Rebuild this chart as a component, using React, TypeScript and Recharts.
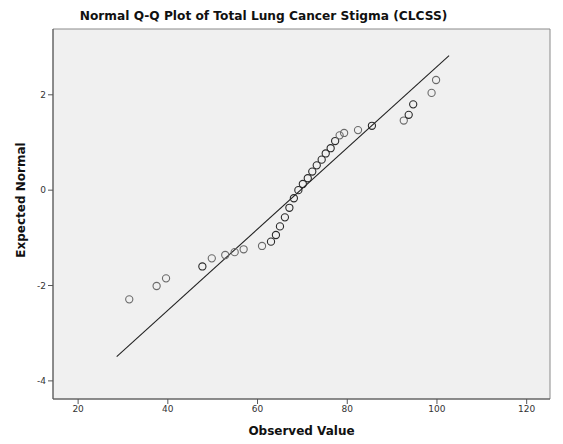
import {
  ScatterChart,
  Scatter,
  XAxis,
  YAxis,
  ReferenceArea,
} from "recharts";

const observed = [
  31.4, 37.5, 39.6, 47.7, 49.8, 52.8, 54.9, 56.9, 61.0, 63.0, 64.1, 65.0, 66.1,
  67.1, 68.1, 69.1, 70.1, 71.2, 72.2, 73.2, 74.3, 75.2, 76.3, 77.3, 78.3, 79.3,
  82.4, 85.5, 92.6, 93.7, 94.7, 98.8, 99.8,
];
const expected = [
  -2.29, -2.01, -1.85, -1.6, -1.43, -1.36, -1.3, -1.24, -1.17, -1.08, -0.94,
  -0.76, -0.57, -0.37, -0.17, 0.0, 0.13, 0.25, 0.39, 0.52, 0.64, 0.77, 0.88,
  1.03, 1.15, 1.2, 1.26, 1.35, 1.46, 1.58, 1.8, 2.04, 2.31,
];
// tied cases draw darker
const ties = [
  1, 1, 1, 2, 1, 1, 1, 1, 1, 2, 2, 2, 2, 2, 2, 2, 2, 2, 2, 2, 2, 2, 2, 2, 1, 1,
  1, 2, 1, 2, 2, 1, 1,
];

// reference line end points
const lineX = [28.6, 102.7];
const lineY = [-3.49, 2.82];

const xTicks = [20, 40, 60, 80, 100, 120];
const yTicks = [-4, -2, 0, 2];
const xDomain: [number, number] = [14.4, 125.2];
const yDomain: [number, number] = [-4.38, 3.38];

const points = observed.map((x, i) => ({ x, y: expected[i], n: ties[i] }));
const refLine = lineX.map((x, i) => ({ x, y: lineY[i] }));

const font = "'DejaVu Sans', sans-serif";

const Ring = (props: any) => {
  const { cx, cy, payload } = props;
  return (
    <circle
      cx={cx}
      cy={cy}
      r={3.6}
      fill="none"
      stroke={payload.n > 1 ? "#2a2a2a" : "#6a6a6a"}
      strokeWidth={1.1}
    />
  );
};

export default function App() {
  return (
    <div
      style={{
        position: "absolute",
        left: 0,
        top: 0,
        width: 563,
        height: 444,
        background: "#fff",
        fontFamily: font,
      }}
    >
      <div
        style={{
          position: "absolute",
          left: 0,
          width: 527,
          top: 9,
          textAlign: "center",
          fontWeight: "bold",
          fontSize: 12.2,
          color: "#111",
        }}
      >
        Normal Q-Q Plot of Total Lung Cancer Stigma (CLCSS)
      </div>
      <div
        style={{
          position: "absolute",
          left: 53,
          width: 497,
          top: 424,
          textAlign: "center",
          fontWeight: "bold",
          fontSize: 12,
          color: "#111",
        }}
      >
        Observed Value
      </div>
      <div
        style={{
          position: "absolute",
          left: 21,
          top: 200,
          transform: "translate(-50%, -50%) rotate(-90deg)",
          whiteSpace: "nowrap",
          fontWeight: "bold",
          fontSize: 12,
          color: "#111",
        }}
      >
        Expected Normal
      </div>
      <ScatterChart
        width={563}
        height={444}
        margin={{ top: 29, right: 13, bottom: 25, left: 20 }}
      >
        <ReferenceArea
          x1={xDomain[0]}
          x2={xDomain[1]}
          y1={yDomain[0]}
          y2={yDomain[1]}
          fill="#f0f0f0"
          fillOpacity={1}
          stroke="#8a8a8a"
          strokeWidth={1}
          ifOverflow="visible"
        />
        <XAxis
          type="number"
          dataKey="x"
          domain={xDomain}
          ticks={xTicks}
          allowDataOverflow
          height={20}
          stroke="#555"
          tickSize={5}
          tick={{ fontSize: 9, fill: "#333", fontFamily: font }}
        />
        <YAxis
          type="number"
          dataKey="y"
          domain={yDomain}
          ticks={yTicks}
          allowDataOverflow
          width={33}
          stroke="#555"
          tickSize={5}
          tick={{ fontSize: 9, fill: "#333", fontFamily: font }}
        />
        <Scatter
          data={refLine}
          line={{ stroke: "#222", strokeWidth: 1.1 }}
          shape={() => null}
          isAnimationActive={false}
        />
        <Scatter data={points} shape={Ring} isAnimationActive={false} />
      </ScatterChart>
    </div>
  );
}
